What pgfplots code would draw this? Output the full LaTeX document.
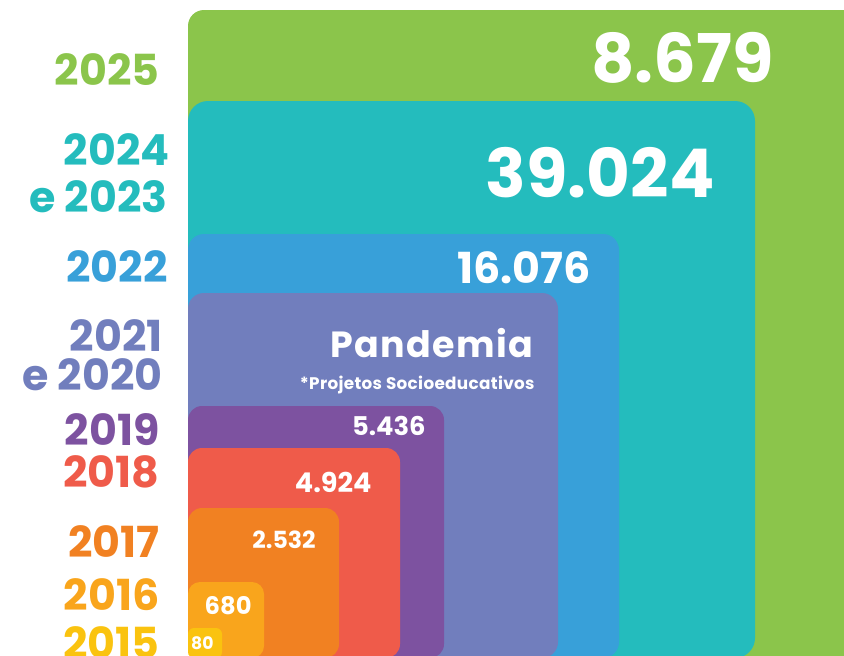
\documentclass[border=0pt]{standalone}
\usepackage{fontspec}
\setmainfont{Poppins}
\usepackage{pgfplots}
\pgfplotsset{compat=1.18}

\definecolor{cGreen}{HTML}{8BC54B}
\definecolor{cTeal}{HTML}{24BCBD}
\definecolor{cBlue}{HTML}{38A0D9}
\definecolor{cLav}{HTML}{717EBD}
\definecolor{cPurple}{HTML}{7D52A0}
\definecolor{cRed}{HTML}{EF5B4A}
\definecolor{cOrange}{HTML}{F18122}
\definecolor{cLOrange}{HTML}{F9A51C}
\definecolor{cYellow}{HTML}{FAC30F}

\tikzset{
  yr/.style={anchor=base east, inner sep=0pt, font=\fontsize{21.4}{22}\selectfont\bfseries},
  val/.style={anchor=base east, inner sep=0pt, text=white},
}

\begin{document}
\begin{tikzpicture}
\begin{axis}[
  hide axis, scale only axis,
  width=422pt, height=327.5pt,
  xmin=0, xmax=844, ymin=0, ymax=655,
]
% nested boxes: left edge, top and right edge in pixels of the source
\addplot[draw=none, fill=cGreen, rounded corners=8pt] coordinates {(188,320)(188,645)(880,645)(880,-3)(188,-3)} -- cycle;
\addplot[draw=none, fill=cTeal, rounded corners=10pt] coordinates {(188,275)(188,554)(755,554)(755,-3)(188,-3)} -- cycle;
\addplot[draw=none, fill=cBlue, rounded corners=8pt] coordinates {(188,210)(188,421)(619,421)(619,-3)(188,-3)} -- cycle;
\addplot[draw=none, fill=cLav, rounded corners=8pt] coordinates {(188,180)(188,362)(558,362)(558,-3)(188,-3)} -- cycle;
\addplot[draw=none, fill=cPurple, rounded corners=7pt] coordinates {(188,120)(188,249)(444,249)(444,-3)(188,-3)} -- cycle;
\addplot[draw=none, fill=cRed, rounded corners=7pt] coordinates {(188,100)(188,207)(400,207)(400,-3)(188,-3)} -- cycle;
\addplot[draw=none, fill=cOrange, rounded corners=7pt] coordinates {(188,70)(188,147)(339,147)(339,-3)(188,-3)} -- cycle;
\addplot[draw=none, fill=cLOrange, rounded corners=6pt] coordinates {(188,35)(188,73)(264,73)(264,-3)(188,-3)} -- cycle;
\addplot[draw=none, fill=cYellow, rounded corners=3pt] coordinates {(188,12)(188,27)(222,27)(222,-3)(188,-3)} -- cycle;

% year labels
\node[yr, text=cGreen] at (axis cs:160,570) {2025};
\node[yr, text=cTeal] at (axis cs:170,490) {2024};
\node[yr, text=cTeal] at (axis cs:168,443) {e 2023};
\node[yr, text=cBlue] at (axis cs:168,373) {2022};
\node[yr, text=cLav] at (axis cs:163,304) {2021};
\node[yr, text=cLav] at (axis cs:163,265) {e 2020};
\node[yr, text=cPurple] at (axis cs:160,210) {2019};
\node[yr, text=cRed] at (axis cs:160,168) {2018};
\node[yr, text=cOrange] at (axis cs:160,98) {2017};
\node[yr, text=cLOrange] at (axis cs:160,45) {2016};
\node[yr, text=cYellow] at (axis cs:160,-3) {2015};

% values
\node[val, font=\fontsize{33.6}{34}\selectfont\bfseries] at (axis cs:774,573) {8.679};
\node[val, font=\fontsize{33.6}{34}\selectfont\bfseries] at (axis cs:715,458) {39.024};
\node[val, font=\fontsize{21.4}{22}\selectfont\bfseries] at (axis cs:591,372) {16.076};
\node[val, font=\fontsize{18.2}{18}\selectfont\bfseries\addfontfeatures{LetterSpace=4}] at (axis cs:534,298) {Pandemia};
\node[val, font=\fontsize{8.4}{9}\selectfont\bfseries\addfontfeatures{LetterSpace=2}] at (axis cs:535,266) {*Projetos Socioeducativos};
\node[val, font=\fontsize{12.9}{13}\selectfont\bfseries] at (axis cs:426,220) {5.436};
\node[val, font=\fontsize{13.6}{14}\selectfont\bfseries] at (axis cs:372,163) {4.924};
\node[val, font=\fontsize{11.8}{12}\selectfont\bfseries] at (axis cs:316,107) {2.532};
\node[val, font=\fontsize{12.1}{12}\selectfont\bfseries] at (axis cs:252,41) {680};
\node[val, font=\fontsize{8.6}{9}\selectfont\bfseries] at (axis cs:214,6) {80};
\end{axis}
\pgfresetboundingbox
\path[use as bounding box] (current axis.south west) rectangle (current axis.north east);
\end{tikzpicture}
\end{document}
